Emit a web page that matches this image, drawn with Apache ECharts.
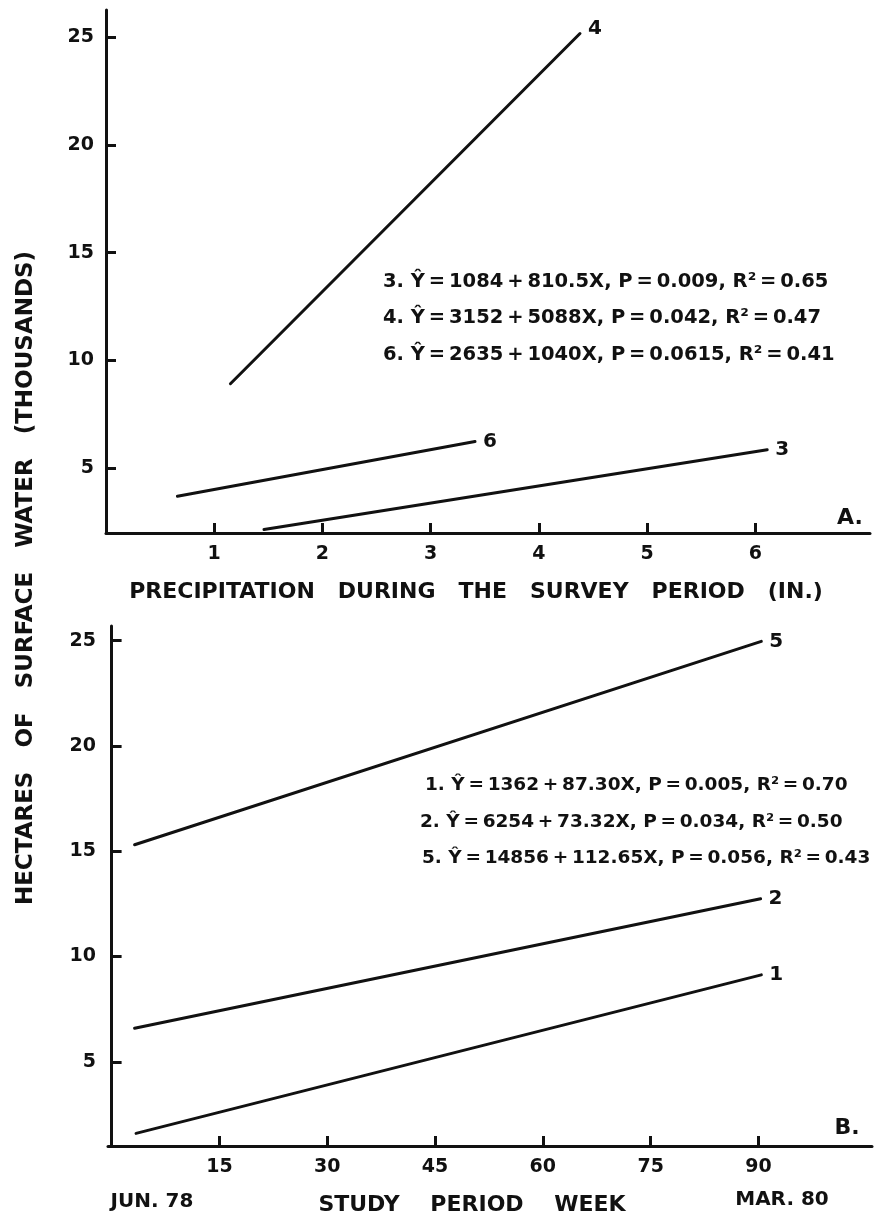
<!DOCTYPE html>
<html>
<head>
<meta charset="utf-8">
<script src="https://cdn.jsdelivr.net/npm/echarts@6/dist/echarts.min.js"></script>
<style>
  html, body { margin: 0; padding: 0; background: #fff; }
  #chart { width: 875px; height: 1222px; }
</style>
</head>
<body>
<div id="chart"></div>
<script>
// Panel A: surface water vs. precipitation (regression lines 3, 4, 6)
const precipLineNames = ['3', '4', '6'];
const precipStartX = [1.46, 1.15, 0.66];
const precipStartY = [2.16, 8.92, 3.70];
const precipEndX = [6.11, 4.38, 3.41];
const precipEndY = [5.86, 25.16, 6.24];

// Panel B: surface water vs. study week (regression lines 1, 2, 5)
const weekLineNames = ['1', '2', '5'];
const weekStartX = [3.4, 3.2, 3.2];
const weekStartY = [1.60, 6.59, 15.31];
const weekEndX = [90.4, 90.3, 90.4];
const weekEndY = [9.13, 12.74, 24.97];

// Tick labels
const precipTicks = [1, 2, 3, 4, 5, 6];
const weekTicks = [15, 30, 45, 60, 75, 90];
const waterTicks = [5, 10, 15, 20, 25];

// Regression equations (thin spaces around = and +)
const equationsA = [
  '3. Ŷ\u2009=\u20091084\u2009+\u2009810.5X, P\u2009=\u20090.009, R²\u2009=\u20090.65',
  '4. Ŷ\u2009=\u20093152\u2009+\u20095088X, P\u2009=\u20090.042, R²\u2009=\u20090.47',
  '6. Ŷ\u2009=\u20092635\u2009+\u20091040X, P\u2009=\u20090.0615, R²\u2009=\u20090.41'
];
const equationsB = [
  '1. Ŷ\u2009=\u20091362\u2009+\u200987.30X, P\u2009=\u20090.005, R²\u2009=\u20090.70',
  '2. Ŷ\u2009=\u20096254\u2009+\u200973.32X, P\u2009=\u20090.034, R²\u2009=\u20090.50',
  '5. Ŷ\u2009=\u200914856\u2009+\u2009112.65X, P\u2009=\u20090.056, R²\u2009=\u20090.43'
];

const INK = '#111';
const FONT = "'DejaVu Sans', sans-serif";

function axisCommon(ticks) {
  return {
    axisLine: { show: true, lineStyle: { color: INK, width: 3 } },
    axisTick: { show: true, inside: true, length: 10, customValues: ticks,
                lineStyle: { color: INK, width: 3 } },
    axisLabel: { show: true, customValues: ticks, color: INK, fontFamily: FONT,
                 fontWeight: 'bold', fontSize: 19, margin: 12 },
    splitLine: { show: false }
  };
}

function makeSeries(names, sx, sy, ex, ey, axisIdx) {
  return names.map((n, i) => ({
    type: 'line',
    name: 'Line ' + n,
    xAxisIndex: axisIdx,
    yAxisIndex: axisIdx,
    data: [[sx[i], sy[i]], [ex[i], ey[i]]],
    showSymbol: false,
    silent: true,
    animation: false,
    lineStyle: { color: INK, width: 3, cap: 'round' },
    endLabel: {
      show: true,
      formatter: n,
      color: INK,
      fontFamily: FONT,
      fontWeight: 'bold',
      fontSize: 20,
      distance: 8,
      offset: n === '4' ? [0, -5] : [0, 0]
    }
  }));
}

function eqTexts(lines, xs, ys, size) {
  return lines.map((t, i) => ({
    type: 'text',
    x: xs[i],
    y: ys[i],
    style: { text: t, fill: INK, font: 'bold ' + size + "px 'DejaVu Sans', sans-serif",
             verticalAlign: 'middle' }
  }));
}

function label(text, x, y, size, rotation) {
  return {
    type: 'text', x: x, y: y, rotation: rotation || 0,
    style: { text: text, fill: INK, font: 'bold ' + size + "px 'DejaVu Sans', sans-serif",
             align: 'center', verticalAlign: 'middle' }
  };
}

const chart = echarts.init(document.getElementById('chart'), null, { renderer: 'canvas' });

chart.setOption({
  backgroundColor: '#fff',
  animation: false,
  grid: [
    { left: 106, top: 10, width: 764, height: 523 },
    { left: 108, top: 626, width: 764, height: 520 }
  ],
  xAxis: [
    Object.assign({ type: 'value', gridIndex: 0, min: 0, max: 7.06 }, axisCommon(precipTicks)),
    Object.assign({ type: 'value', gridIndex: 1, min: -0.5, max: 105.8 }, axisCommon(weekTicks))
  ],
  yAxis: [
    Object.assign({ type: 'value', gridIndex: 0, min: 2, max: 26.25 }, axisCommon(waterTicks)),
    Object.assign({ type: 'value', gridIndex: 1, min: 1, max: 25.7 }, axisCommon(waterTicks))
  ],
  series: [
    ...makeSeries(precipLineNames, precipStartX, precipStartY, precipEndX, precipEndY, 0),
    ...makeSeries(weekLineNames, weekStartX, weekStartY, weekEndX, weekEndY, 1)
  ],
  graphic: [
    ...eqTexts(equationsA, [383, 383, 383], [282, 318, 355], 19.5),
    ...eqTexts(equationsB, [425, 420, 422], [785, 822, 858], 18.5),
    label('A.', 850, 518, 22),
    label('B.', 847, 1128, 22),
    label('PRECIPITATION   DURING   THE   SURVEY   PERIOD   (IN.)', 476, 592, 22),
    label('STUDY    PERIOD    WEEK', 472, 1205, 22),
    label('JUN. 78', 152, 1202, 20),
    label('MAR. 80', 782, 1200, 20),
    label('HECTARES   OF   SURFACE   WATER   (THOUSANDS)', 26, 578, 23, Math.PI / 2)
  ]
});
</script>
</body>
</html>
